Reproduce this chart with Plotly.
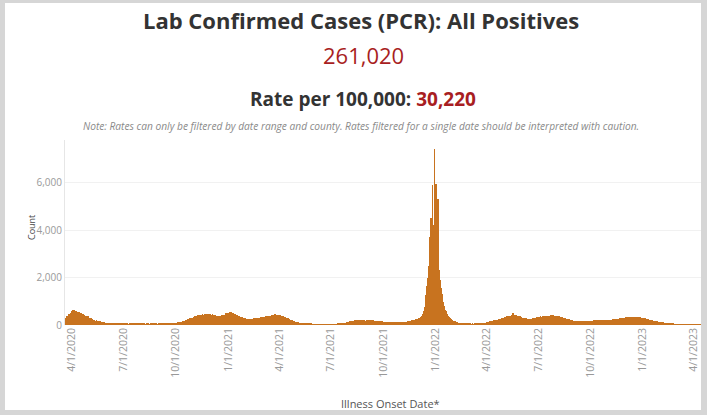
import pandas as pd
import plotly.graph_objects as go

# Daily lab-confirmed PCR positives by illness onset date
cases_2020_03 = [250, 300, 330, 360, 400, 380, 430, 460, 480, 450, 520, 560]  # from Mar 20
cases_2020_04 = [590, 620, 610, 640, 630, 600, 570, 610, 580, 550, 530, 560, 510, 530, 500, 480, 510, 460, 440, 470,
                 430, 410, 440, 400, 380, 390, 360, 350, 370, 330]
cases_2020_05 = [310, 300, 270, 290, 260, 250, 220, 230, 210, 200, 215, 185, 175, 190, 165, 155, 170, 150, 140, 150,
                 130, 140, 120, 130, 110, 120, 100, 110, 100, 95, 105]
cases_2020_06 = [90, 85, 95, 80, 75, 85, 70, 65, 75, 60, 70, 60, 55, 65, 55, 50, 58, 52, 48, 45,
                 52, 48, 44, 47, 52, 43, 46, 40, 47, 42]
cases_2020_07 = [40, 44, 48, 36, 38, 45, 50, 46, 42, 40, 36, 44, 48, 52, 45, 40, 47, 44, 36, 40,
                 48, 52, 45, 40, 44, 48, 40, 36, 44, 48, 45]
cases_2020_08 = [44, 40, 36, 44, 48, 40, 45, 36, 40, 44, 48, 40, 36, 44, 40, 36, 40, 44, 48, 40,
                 36, 44, 40, 36, 44, 40, 48, 44, 40, 36, 44]
cases_2020_09 = [40, 44, 36, 40, 44, 48, 40, 36, 44, 40, 44, 48, 40, 44, 48, 52, 45, 50, 55, 60,
                 56, 65, 70, 62, 75, 80, 72, 85, 90, 82]
cases_2020_10 = [95, 90, 105, 100, 115, 110, 105, 100, 125, 135, 130, 145, 155, 140, 165, 175, 170, 185, 205, 195,
                 215, 235, 225, 245, 265, 285, 275, 295, 305, 285, 315]
cases_2020_11 = [330, 350, 340, 370, 360, 380, 400, 390, 410, 430, 400, 420, 440, 410, 390, 430, 450, 420, 400, 440,
                 460, 430, 410, 450, 470, 440, 420, 460, 480, 450]
cases_2020_12 = [460, 440, 420, 450, 430, 400, 380, 420, 440, 410, 390, 370, 400, 380, 360, 390, 370, 350, 380, 400,
                 420, 390, 410, 440, 380, 420, 460, 490, 510, 480, 500]
cases_2021_01 = [470, 520, 540, 560, 530, 510, 540, 500, 480, 510, 470, 450, 480, 440, 420, 400, 430, 390, 370, 350,
                 380, 340, 320, 300, 330, 290, 280, 300, 270, 260, 280]
cases_2021_02 = [260, 250, 270, 240, 250, 260, 230, 250, 270, 240, 260, 250, 230, 260, 280, 250, 270, 260, 280, 300,
                 270, 290, 280, 300, 310, 290, 300, 320]
cases_2021_03 = [300, 320, 310, 330, 340, 320, 350, 340, 360, 350, 370, 360, 380, 370, 390, 380, 400, 390, 410, 420,
                 400, 430, 440, 460, 450, 430, 440, 420, 430, 410, 420]
cases_2021_04 = [400, 410, 390, 380, 400, 370, 360, 380, 350, 340, 330, 320, 300, 310, 290, 270, 280, 250, 240, 230,
                 220, 200, 210, 190, 180, 170, 160, 150, 140, 135]
cases_2021_05 = [130, 125, 115, 110, 105, 100, 95, 90, 85, 90, 80, 75, 70, 75, 65, 60, 65, 60, 55, 55,
                 50, 50, 45, 50, 45, 40, 45, 40, 35, 40, 35]
cases_2021_06 = [35, 30, 35, 40, 30, 35, 30, 25, 30, 35, 30, 25, 30, 35, 30, 25, 30, 35, 30, 35,
                 30, 25, 30, 35, 30, 35, 30, 25, 30, 35]
cases_2021_07 = [30, 35, 30, 25, 30, 35, 30, 35, 40, 35, 30, 40, 45, 40, 45, 50, 55, 50, 60, 65,
                 60, 70, 75, 70, 80, 90, 85, 100, 110, 105, 120]
cases_2021_08 = [130, 140, 150, 145, 160, 170, 155, 165, 180, 175, 190, 170, 185, 200, 180, 195, 210, 190, 180, 200,
                 215, 190, 175, 195, 205, 185, 170, 190, 200, 180, 175]
cases_2021_09 = [185, 200, 180, 170, 190, 205, 185, 175, 195, 180, 165, 185, 190, 175, 160, 180, 170, 155, 175, 165,
                 150, 170, 160, 145, 155, 165, 150, 140, 155, 145]
cases_2021_10 = [140, 130, 120, 135, 125, 115, 130, 120, 110, 125, 115, 105, 120, 110, 100, 115, 105, 95, 110, 100,
                 105, 115, 100, 95, 110, 105, 100, 115, 110, 105, 120]
cases_2021_11 = [110, 120, 115, 125, 120, 110, 125, 130, 120, 135, 130, 140, 135, 150, 145, 160, 155, 170, 165, 180,
                 190, 175, 200, 210, 195, 220, 240, 250, 230, 260]
cases_2021_12 = [270, 290, 300, 280, 310, 340, 360, 390, 420, 450, 520, 600, 780, 950, 1250, 1400, 1650, 1800, 2000, 2500,
                 2900, 3700, 3200, 4500, 2600, 3100, 5900, 4200, 3300, 7400, 3000]
cases_2022_01 = [2800, 5950, 3600, 3000, 5300, 2700, 2300, 2000, 1900, 1600, 1550, 1300, 1100, 950, 880, 800, 720, 650, 600, 540,
                 480, 430, 400, 370, 330, 300, 280, 260, 240, 220, 200]
cases_2022_02 = [185, 170, 160, 150, 140, 135, 125, 120, 110, 105, 100, 95, 90, 85, 75, 70, 70, 65, 60, 60,
                 55, 55, 50, 50, 45, 50, 45, 45]
cases_2022_03 = [45, 40, 45, 40, 35, 40, 45, 40, 35, 40, 45, 40, 40, 45, 50, 45, 50, 55, 50, 55,
                 60, 65, 60, 70, 75, 70, 80, 85, 90, 95, 100]
cases_2022_04 = [120, 130, 115, 125, 140, 150, 145, 160, 155, 170, 165, 180, 190, 175, 195, 200, 185, 210, 220, 205,
                 230, 240, 225, 250, 260, 245, 270, 280, 265, 290]
cases_2022_05 = [300, 320, 310, 340, 330, 350, 360, 340, 370, 380, 360, 390, 400, 380, 420, 440, 520, 460, 430, 400,
                 420, 390, 410, 380, 360, 390, 370, 350, 340, 360, 330]
cases_2022_06 = [320, 300, 310, 290, 280, 300, 270, 260, 280, 250, 260, 240, 250, 230, 240, 250, 260, 240, 270, 260,
                 280, 270, 290, 280, 300, 290, 310, 300, 320, 310]
cases_2022_07 = [320, 330, 340, 350, 360, 340, 330, 350, 370, 360, 340, 380, 370, 350, 360, 380, 390, 370, 360, 400,
                 380, 390, 410, 400, 380, 420, 440, 410, 400, 380, 390]
cases_2022_08 = [370, 380, 360, 350, 340, 360, 330, 320, 340, 310, 300, 320, 290, 280, 300, 270, 260, 280, 250, 240,
                 260, 230, 220, 240, 210, 200, 220, 190, 180, 200, 175]
cases_2022_09 = [170, 165, 180, 160, 155, 170, 160, 150, 175, 165, 155, 170, 180, 160, 150, 165, 175, 160, 155, 170,
                 165, 150, 160, 175, 165, 155, 170, 180, 165, 160]
cases_2022_10 = [170, 180, 175, 165, 185, 190, 175, 180, 195, 185, 170, 190, 200, 185, 175, 195, 190, 180, 200, 210,
                 190, 185, 205, 195, 180, 200, 210, 195, 190, 205, 215]
cases_2022_11 = [200, 210, 220, 205, 215, 230, 220, 210, 235, 240, 225, 245, 250, 235, 255, 260, 245, 265, 270, 255,
                 275, 280, 265, 285, 290, 275, 300, 310, 295, 305]
cases_2022_12 = [310, 320, 300, 290, 330, 340, 320, 310, 335, 345, 320, 300, 340, 350, 330, 345, 320, 310, 335, 325,
                 300, 315, 330, 310, 290, 300, 320, 310, 295, 305, 300]
cases_2023_01 = [290, 300, 280, 270, 285, 260, 250, 265, 240, 230, 245, 220, 210, 225, 200, 190, 205, 185, 175, 180,
                 170, 160, 165, 150, 145, 155, 140, 135, 130, 140, 125]
cases_2023_02 = [120, 115, 110, 105, 110, 100, 95, 100, 90, 85, 80, 85, 75, 70, 75, 65, 60, 65, 55, 50,
                 55, 45, 40, 45, 35, 30, 25, 20]
cases_2023_03 = [15, 12, 10, 14, 11, 9, 12, 10, 13, 11, 8, 10, 12, 9, 11, 10, 13, 9, 8, 11,
                 10, 12, 9, 10, 8, 11, 9, 10, 12, 8, 10]
cases_2023_04 = [9, 11, 8, 10, 9, 7, 10, 8, 9, 11, 8, 7]

month_series = [
    ("2020-03-20", cases_2020_03), ("2020-04-01", cases_2020_04), ("2020-05-01", cases_2020_05),
    ("2020-06-01", cases_2020_06), ("2020-07-01", cases_2020_07), ("2020-08-01", cases_2020_08),
    ("2020-09-01", cases_2020_09), ("2020-10-01", cases_2020_10), ("2020-11-01", cases_2020_11),
    ("2020-12-01", cases_2020_12), ("2021-01-01", cases_2021_01), ("2021-02-01", cases_2021_02),
    ("2021-03-01", cases_2021_03), ("2021-04-01", cases_2021_04), ("2021-05-01", cases_2021_05),
    ("2021-06-01", cases_2021_06), ("2021-07-01", cases_2021_07), ("2021-08-01", cases_2021_08),
    ("2021-09-01", cases_2021_09), ("2021-10-01", cases_2021_10), ("2021-11-01", cases_2021_11),
    ("2021-12-01", cases_2021_12), ("2022-01-01", cases_2022_01), ("2022-02-01", cases_2022_02),
    ("2022-03-01", cases_2022_03), ("2022-04-01", cases_2022_04), ("2022-05-01", cases_2022_05),
    ("2022-06-01", cases_2022_06), ("2022-07-01", cases_2022_07), ("2022-08-01", cases_2022_08),
    ("2022-09-01", cases_2022_09), ("2022-10-01", cases_2022_10), ("2022-11-01", cases_2022_11),
    ("2022-12-01", cases_2022_12), ("2023-01-01", cases_2023_01), ("2023-02-01", cases_2023_02),
    ("2023-03-01", cases_2023_03), ("2023-04-01", cases_2023_04),
]

tick_dates = ["2020-04-01", "2020-07-01", "2020-10-01", "2021-01-01", "2021-04-01", "2021-07-01",
              "2021-10-01", "2022-01-01", "2022-04-01", "2022-07-01", "2022-10-01", "2023-01-01", "2023-04-01"]
tick_labels = ["4/1/2020", "7/1/2020", "10/1/2020", "1/1/2021", "4/1/2021", "7/1/2021",
               "10/1/2021", "1/1/2022", "4/1/2022", "7/1/2022", "10/1/2022", "1/1/2023", "4/1/2023"]
y_ticks = [0, 2000, 4000, 6000]
y_tick_labels = ["0", "2,000", "4,000", "6,000"]

title_text = "Lab Confirmed Cases (PCR): All Positives"
total_text = "261,020"
rate_label = "Rate per 100,000: "
rate_value = "30,220"
note_text = ("Note: Rates can only be filtered by date range and county. "
             "Rates filtered for a single date should be interpreted with caution.")
x_title = "Illness Onset Date*"
y_title = "Count"

dates, counts = [], []
for first_day, vals in month_series:
    dates.extend(pd.date_range(first_day, periods=len(vals), freq="D"))
    counts.extend(vals)

W, H = 707, 415
L, R, T, B = 65, 6, 140, 90
pw, ph = W - L - R, H - T - B


def px_x(x):
    return (x - L) / pw


def px_y(y):
    return (H - B - y) / ph


BAR = "#c8731f"
RED = "#a81e22"
DARK = "#333333"
FONT = "Open Sans, sans-serif"

fig = go.Figure()
fig.add_trace(go.Bar(
    x=dates, y=counts, width=86400000,
    marker=dict(color=BAR, line=dict(width=0)),
    hoverinfo="skip",
))

x0 = pd.Timestamp("2020-04-01") - pd.Timedelta(hours=12.3 * 24)
x1 = pd.Timestamp("2023-04-01") + pd.Timedelta(hours=12.3 * 24)

fig.update_layout(
    width=W, height=H,
    margin=dict(l=L, r=R, t=T, b=B, autoexpand=False),
    paper_bgcolor="#d6d6d6",
    plot_bgcolor="white",
    bargap=0,
    showlegend=False,
    font=dict(family=FONT, color="#888"),
    xaxis=dict(
        type="date", range=[x0, x1],
        tickvals=tick_dates, ticktext=tick_labels, tickangle=-90,
        tickfont=dict(size=10.5, color="#999"),
        showgrid=False, showline=False, zeroline=False, ticks="",
    ),
    yaxis=dict(
        range=[0, 7800], tickvals=y_ticks, ticktext=y_tick_labels,
        tickfont=dict(size=10, color="#999"),
        showgrid=True, gridcolor="#f1f1f1", gridwidth=1,
        showline=True, linecolor="#e6e6e6", linewidth=1,
        zeroline=False, ticks="",
    ),
    shapes=[dict(
        type="rect", xref="paper", yref="paper", layer="below",
        x0=px_x(5), x1=px_x(701), y0=px_y(410), y1=px_y(3),
        fillcolor="white", line=dict(width=0),
    )],
    annotations=[
        dict(text="<b>" + title_text + "</b>", x=px_x(361), y=px_y(20), xref="paper", yref="paper",
             showarrow=False, xanchor="center", yanchor="middle",
             font=dict(size=22, color=DARK, family=FONT)),
        dict(text=total_text, x=px_x(363), y=px_y(55), xref="paper", yref="paper",
             showarrow=False, xanchor="center", yanchor="middle",
             font=dict(size=22, color=RED, family=FONT)),
        dict(text="<b>" + rate_label + "<span style='color:" + RED + "'>" + rate_value + "</span></b>",
             x=px_x(363), y=px_y(99), xref="paper", yref="paper",
             showarrow=False, xanchor="center", yanchor="middle",
             font=dict(size=19, color=DARK, family=FONT)),
        dict(text="<i>" + note_text + "</i>", x=px_x(361), y=px_y(126), xref="paper", yref="paper",
             showarrow=False, xanchor="center", yanchor="middle",
             font=dict(size=10.2, color="#8a8a8a", family=FONT)),
        dict(text=y_title, x=px_x(31), y=px_y(228), xref="paper", yref="paper",
             showarrow=False, xanchor="center", yanchor="middle", textangle=-90,
             font=dict(size=9, color="#444", family=FONT)),
        dict(text=x_title, x=px_x(390), y=px_y(403), xref="paper", yref="paper",
             showarrow=False, xanchor="center", yanchor="middle",
             font=dict(size=11, color="#555", family=FONT)),
    ],
)

fig.write_html("out.html", config={"displayModeBar": False},
               post_script="document.body.style.margin='0';")
